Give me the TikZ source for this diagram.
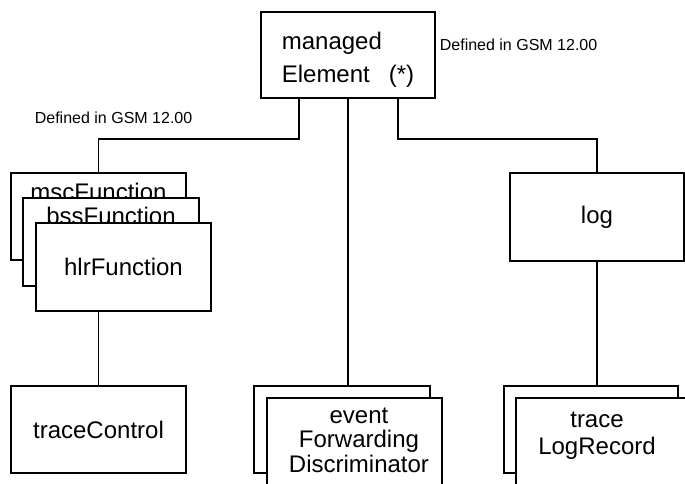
\documentclass[tikz,border=0pt]{standalone}
\usepackage{fontspec}
\setmainfont{Liberation Sans}
\usetikzlibrary{arrows}

\begin{document}
\begin{tikzpicture}[x=1pt,y=-1pt,line width=1.7pt,
	box/.style={shape=rectangle,draw,fill=white,minimum width=175pt,minimum height=87pt,inner sep=0pt,font=\fontsize{24}{24}\selectfont},
	txt/.style={inner sep=0pt,align=center,font=\fontsize{24}{24}\selectfont},
	note/.style={inner sep=0pt,anchor=west,font=\fontsize{16}{16}\selectfont}]
					\clip (0,0) rectangle (685,484);
					\node (managed) [box,minimum width=174pt,minimum height=86pt] at (348,55) {};
					\node (managedtext) [txt,align=left,font=\fontsize{24}{33}\selectfont] at (348,60) {managed\\Element\hspace{19pt}(*)};
					\node (noteright) [note] at (439,45) {Defined in GSM 12.00};
					\node (noteleft) [note] at (34,118) {Defined in GSM 12.00};

					\node (msc) [box] at (98.5,216.5) {};
					\node (msctext) [txt,anchor=base] at (98.5,200) {mscFunction};
					\node (bss) [box,minimum width=176pt,minimum height=88pt] at (111,242) {};
					\node (bsstext) [txt,anchor=base] at (111,224) {bssFunction};
					\node (hlr) [box,minimum height=88pt] at (123.5,267) {hlrFunction};
					\node (tc) [box] at (98.5,429.5) {traceControl};

					\node (log) [box,minimum width=174pt,minimum height=88pt] at (597,217) {log};

					\node (efdback) [box,minimum width=176pt] at (342,429.5) {};
					\node (efdfront) [box,minimum height=90pt] at (354.5,443) {};
					\node (efdtext) [txt,anchor=north,font=\fontsize{24}{24.5}\selectfont] at (359,407) {event\\Forwarding\\Discriminator};
					\node (tlrback) [box,minimum width=174pt] at (591,429.5) {};
					\node (tlrfront) [box,minimum height=90pt] at (603.5,443) {};
					\node (tlrtext) [txt,anchor=north,font=\fontsize{24}{27}\selectfont] at (597,411) {trace\\LogRecord};

					\draw ([xshift=-49pt]managed.south) -- ++(0,40) -| (msc.north);
					\draw ([xshift=50pt]managed.south) -- ++(0,40) -| (log.north);
					\draw (managed.south) -- (managed.south |- efdback.north);
					\draw (hlr.south -| tc.north) -- (tc.north);
					\draw (log.south) -- (log.south |- tlrback.north);
				\end{tikzpicture}
\end{document}
